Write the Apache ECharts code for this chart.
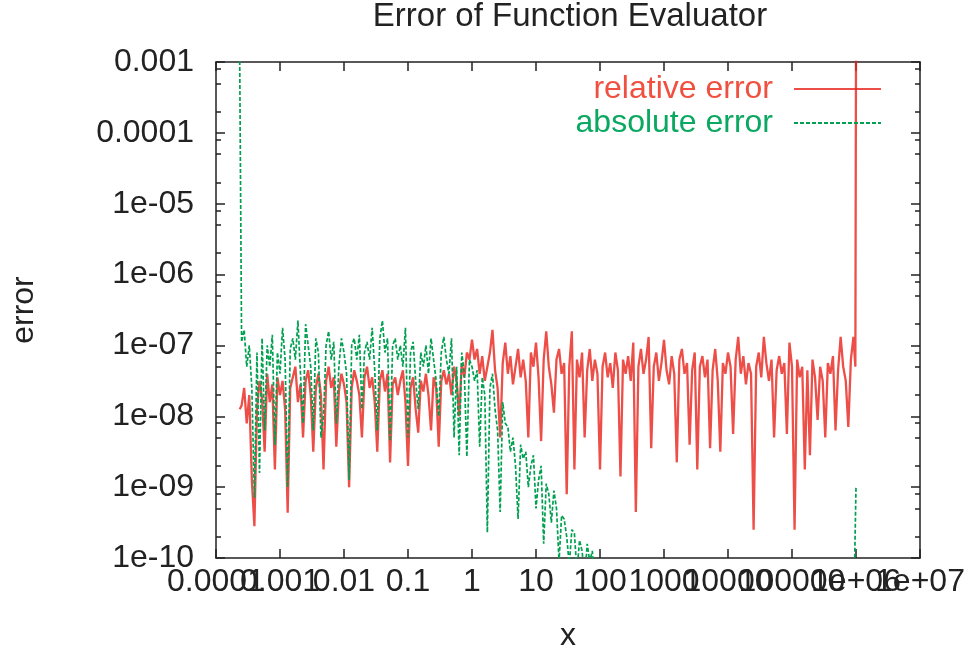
<!DOCTYPE html>
<html><head><meta charset="utf-8">
<script src="https://cdn.jsdelivr.net/npm/echarts@6/dist/echarts.min.js"></script>
<style>html,body{margin:0;padding:0;background:#fff}#c{width:977px;height:663px}</style>
</head><body><div id="c"></div>
<script>
// tick labels (gnuplot style), indexed by decade exponent
const xTickLabels = ['0.0001','0.001','0.01','0.1','1','10','100','1000','10000','100000','1e+06','1e+07'];
const yTickLabels = ['1e-10','1e-09','1e-08','1e-07','1e-06','1e-05','0.0001','0.001'];

// sample positions: log10(x)
const xExp = [-3.63,
-3.60,-3.56,-3.52,-3.48,-3.44,-3.40,-3.36,-3.32,-3.28,-3.24,
-3.20,-3.16,-3.12,-3.08,-3.04,-3.00,-2.96,-2.92,-2.88,-2.84,
-2.80,-2.76,-2.72,-2.68,-2.64,-2.60,-2.56,-2.52,-2.48,-2.44,
-2.40,-2.36,-2.32,-2.28,-2.24,-2.20,-2.16,-2.12,-2.08,-2.04,
-2.00,-1.96,-1.92,-1.88,-1.84,-1.80,-1.76,-1.72,-1.68,-1.64,
-1.60,-1.56,-1.52,-1.48,-1.44,-1.40,-1.36,-1.32,-1.28,-1.24,
-1.20,-1.16,-1.12,-1.08,-1.04,-1.00,-0.96,-0.92,-0.88,-0.84,
-0.80,-0.76,-0.72,-0.68,-0.64,-0.60,-0.56,-0.52,-0.48,-0.44,
-0.40,-0.36,-0.32,-0.28,-0.24,-0.20,-0.16,-0.12,-0.08,-0.04,
0.00,0.04,0.08,0.12,0.16,0.20,0.24,0.28,0.32,0.36,
0.40,0.44,0.48,0.52,0.56,0.60,0.64,0.68,0.72,0.76,
0.80,0.84,0.88,0.92,0.96,1.00,1.04,1.08,1.12,1.16,
1.20,1.24,1.28,1.32,1.36,1.40,1.44,1.48,1.52,1.56,
1.60,1.64,1.68,1.72,1.76,1.80,1.84,1.88,1.92,1.96,
2.00,2.04,2.08,2.12,2.16,2.20,2.24,2.28,2.32,2.36,
2.40,2.44,2.48,2.52,2.56,2.60,2.64,2.68,2.72,2.76,
2.80,2.84,2.88,2.92,2.96,3.00,3.04,3.08,3.12,3.16,
3.20,3.24,3.28,3.32,3.36,3.40,3.44,3.48,3.52,3.56,
3.60,3.64,3.68,3.72,3.76,3.80,3.84,3.88,3.92,3.96,
4.00,4.04,4.08,4.12,4.16,4.20,4.24,4.28,4.32,4.36,
4.40,4.44,4.48,4.52,4.56,4.60,4.64,4.68,4.72,4.76,
4.80,4.84,4.88,4.92,4.96,5.00,5.04,5.08,5.12,5.16,
5.20,5.24,5.28,5.32,5.36,5.40,5.44,5.48,5.52,5.56,
5.60,5.64,5.68,5.72,5.76,5.80,5.84,5.88,5.92,5.96,
5.99,6.00];

// relative error: log10(error), one per xExp entry
const relExp = [-7.9,
-7.85,-7.6,-8.1,-7.7,-8.9,-9.55,-7.9,-7.5,-7.75,-8.5,
-7.4,-7.8,-7.55,-8.75,-7.45,-7.7,-7.5,-7.9,-9.36,-7.6,
-7.45,-7.3,-7.8,-7.55,-8.3,-7.5,-7.35,-7.7,-8.5,-7.6,
-7.4,-7.7,-8.75,-7.5,-7.3,-7.6,-7.45,-8.43,-7.65,-7.4,
-7.55,-7.8,-9.0,-7.6,-7.35,-7.5,-7.7,-8.3,-7.45,-7.3,
-7.6,-7.45,-7.8,-8.5,-7.5,-7.35,-7.65,-7.4,-8.65,-7.55,
-7.45,-7.7,-7.5,-7.35,-7.8,-8.7,-7.6,-7.45,-7.9,-8.23,
-7.5,-7.65,-7.4,-7.7,-8.2,-7.45,-7.6,-8.43,-7.5,-7.35,
-7.55,-7.4,-7.7,-7.3,-7.5,-8.0,-7.25,-7.45,-7.1,-7.2,
-6.92,-7.2,-7.05,-7.4,-7.15,-7.5,-7.3,-7.1,-6.78,-7.35,
-7.6,-8.3,-7.25,-6.96,-7.4,-7.15,-7.55,-7.3,-7.05,-7.45,
-7.2,-7.5,-8.3,-7.1,-7.3,-6.96,-7.45,-8.35,-7.2,-6.8,
-7.3,-7.55,-7.95,-7.2,-7.05,-7.4,-7.25,-9.1,-7.3,-6.8,
-8.75,-7.2,-7.45,-7.1,-8.3,-7.35,-7.05,-7.5,-7.2,-7.4,
-8.75,-7.3,-7.1,-7.45,-7.25,-7.6,-7.1,-7.35,-8.85,-7.2,
-7.4,-7.15,-7.5,-6.96,-9.35,-7.3,-7.05,-7.4,-7.2,-6.88,
-8.45,-7.3,-7.1,-7.5,-7.25,-6.92,-7.35,-7.55,-7.15,-7.4,
-8.65,-7.2,-7.05,-7.4,-7.25,-8.4,-7.35,-7.1,-8.75,-7.3,
-7.15,-7.45,-7.2,-8.45,-7.35,-7.05,-7.5,-8.5,-7.25,-7.4,
-7.1,-7.3,-8.25,-7.2,-6.88,-7.4,-7.15,-7.55,-7.25,-7.4,
-9.6,-7.3,-7.1,-7.45,-6.88,-7.25,-7.5,-7.2,-8.3,-7.35,
-7.15,-7.4,-7.25,-8.25,-6.96,-7.3,-9.6,-7.2,-7.45,-7.3,
-8.75,-7.35,-8.55,-7.2,-7.45,-8.05,-7.3,-7.5,-8.3,-7.25,
-7.4,-7.15,-8.2,-7.35,-6.88,-7.3,-7.5,-8.15,-7.2,-6.88,
-7.3,-2.8];

// absolute error: log10(error) for the first entries of xExp (until it drops below 1e-10)
const absExp = [-2.9,
-6.95,-6.78,-7.3,-7.0,-7.6,-9.15,-7.1,-8.8,-6.9,-8.2,
-7.0,-7.3,-6.85,-8.4,-7.1,-7.4,-6.75,-7.2,-9.0,-7.05,
-6.9,-7.2,-6.65,-7.4,-8.1,-6.7,-7.0,-7.3,-8.2,-6.9,
-7.1,-8.3,-8.0,-7.0,-6.8,-7.2,-6.95,-8.1,-7.3,-6.9,
-7.1,-7.4,-8.9,-7.0,-6.9,-7.2,-6.85,-7.9,-7.1,-6.95,
-7.2,-6.75,-7.35,-8.2,-6.9,-6.65,-7.1,-6.9,-8.35,-7.0,
-6.9,-7.2,-7.0,-7.3,-6.75,-8.3,-7.1,-6.95,-7.5,-7.9,
-7.1,-7.3,-7.0,-7.4,-6.9,-7.2,-7.5,-8.0,-7.1,-6.88,
-7.2,-7.4,-6.9,-8.3,-7.3,-8.55,-7.1,-7.4,-8.57,-7.2,
-7.3,-7.5,-7.35,-8.43,-7.45,-7.7,-9.64,-7.6,-7.4,-7.9,
-8.2,-9.35,-7.8,-8.1,-8.15,-8.5,-8.3,-8.7,-9.45,-8.4,
-8.6,-8.5,-9.0,-8.7,-8.55,-9.3,-8.9,-8.7,-9.8,-8.95,
-9.1,-9.5,-9.05,-9.3,-10.05,-9.4,-9.45,-9.7,-10.1,-9.6,
-9.65,-10.2,-9.75,-9.9,-10.3,-9.8,-10.05,-9.9,-10.4,-10.0,
-10.5,-10.8];
// absolute error near x = 1e6 (below the axis except the spike)
const absTailX = [5.96, 5.99, 6.00];
const absTailExp = [-11, -11, -9.0];

const FONT = "'Liberation Sans', Arial, Helvetica, sans-serif";
const relData = xExp.map((x, k) => [x, relExp[k]]);
const absData = absExp.map((y, k) => [xExp[k], y]).concat(absTailX.map((x, k) => [x, absTailExp[k]]));

const yMinor = [];
for (let n = -10; n < -3; n++) { yMinor.push(n + Math.log10(2), n + Math.log10(5), n + Math.log10(8)); }
const xLabelsA = [-4, -2, 0, 2, 4, 6];
const xLabelsB = [-3, -1, 1, 3, 5, 7];

const axisColor = '#222';
const lineSt = { color: axisColor, width: 1.5 };
function mirrorX(pos) {
  return { type: 'value', min: -4, max: 7, interval: 1, position: pos,
    axisLine: { show: true, onZero: false, lineStyle: lineSt },
    axisTick: { show: true, inside: true, length: 9, lineStyle: lineSt },
    axisLabel: { show: false }, splitLine: { show: false } };
}
function labelX(vals) {
  return { type: 'value', min: -4, max: 7, interval: 1, position: 'bottom',
    axisLine: { show: false, onZero: false }, axisTick: { show: false }, splitLine: { show: false },
    axisLabel: { show: true, customValues: vals, formatter: v => xTickLabels[Math.round(v) + 4], fontSize: 32,
      color: axisColor, fontFamily: FONT, margin: 8, showMinLabel: true, showMaxLabel: true } };
}
function mirrorY(pos, minor) {
  const a = { type: 'value', min: -10, max: -3, interval: 1, position: pos,
    axisLine: { show: !minor, onZero: false, lineStyle: lineSt },
    axisTick: { show: true, inside: true, length: minor ? 5 : 9, lineStyle: lineSt },
    axisLabel: { show: false }, splitLine: { show: false } };
  if (minor) a.axisTick.customValues = yMinor;
  return a;
}

const chart = echarts.init(document.getElementById('c'), null, { renderer: 'canvas' });
const xMain = mirrorX('bottom');
xMain.name = 'x'; xMain.nameLocation = 'middle'; xMain.nameGap = 62;
xMain.nameTextStyle = { fontSize: 32, color: axisColor, fontFamily: FONT };
const yMain = mirrorY('left', false);
yMain.axisLabel = { show: true, formatter: v => yTickLabels[Math.round(v) + 10], fontSize: 32, color: axisColor,
  fontFamily: FONT, margin: 22, showMinLabel: true, showMaxLabel: true };
yMain.name = 'error'; yMain.nameLocation = 'middle'; yMain.nameRotate = 90; yMain.nameGap = 176;
yMain.nameTextStyle = { fontSize: 32, color: axisColor, fontFamily: FONT };

chart.setOption({
  animation: false,
  backgroundColor: '#fff',
  textStyle: { fontFamily: FONT },
  title: { text: 'Error of Function Evaluator', left: 565, top: -5, textAlign: 'center',
    textStyle: { fontSize: 33, fontWeight: 'normal', color: axisColor, fontFamily: FONT } },
  legend: { orient: 'vertical', right: 90, top: 68, align: 'right', itemWidth: 87, itemHeight: 14, itemGap: 2,
    itemStyle: { opacity: 0 },
    data: [ { name: 'relative error', textStyle: { color: '#f0503f' } },
            { name: 'absolute error', textStyle: { color: '#0aa860' } } ],
    textStyle: { fontSize: 32, fontFamily: FONT, padding: [0, 16, 0, 0] } },
  grid: { left: 216, right: 57, top: 62, bottom: 105, outerBoundsMode: 'none' },
  xAxis: [ xMain, mirrorX('top'), labelX(xLabelsA), labelX(xLabelsB) ],
  yAxis: [ yMain, mirrorY('right', false), mirrorY('left', true), mirrorY('right', true) ],
  series: [
    { type: 'line', name: 'relative error', data: relData, symbol: 'none', showSymbol: false, clip: true, z: 2,
      lineStyle: { color: '#e8221a', width: 2.3, opacity: 0.8 }, itemStyle: { color: '#e8221a' } },
    { type: 'line', name: 'absolute error', data: absData, symbol: 'none', showSymbol: false, clip: true, z: 3,
      lineStyle: { color: '#00a050', width: 1.7, type: [4, 2] }, itemStyle: { color: '#00a050' } }
  ]
});
</script></body></html>
